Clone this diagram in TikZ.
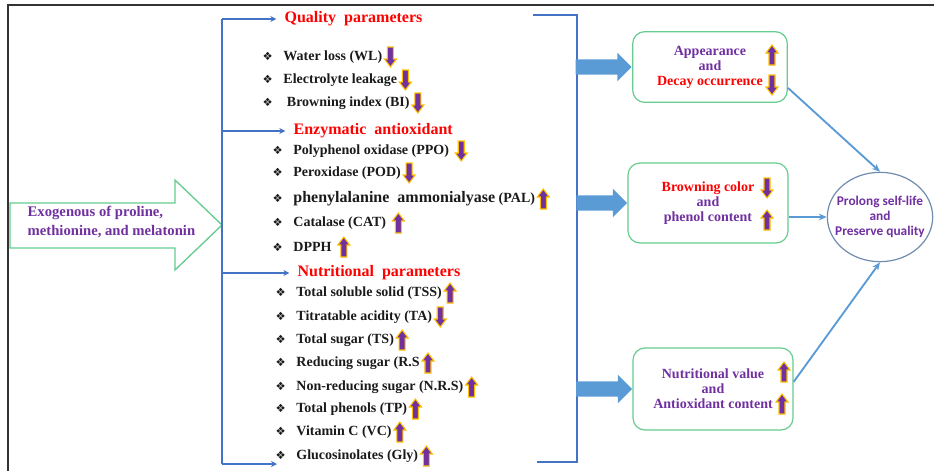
\documentclass[tikz,border=0pt]{standalone}
\usepackage{fontspec}
\setmainfont{Liberation Serif}
\newfontfamily\symfont{DejaVu Sans}
\newfontfamily\calfont{Carlito}
\usetikzlibrary{positioning,shapes.geometric,shapes.arrows,arrows.meta}
\definecolor{brkblue}{HTML}{4472C4}
\definecolor{arrblue}{HTML}{5B9BD5}
\definecolor{boxgreen}{HTML}{66CC8F}
\definecolor{txtpurple}{HTML}{7030A0}
\definecolor{flagred}{HTML}{FF0000}
\definecolor{tipgold}{HTML}{FFC000}
\definecolor{ellblue}{HTML}{6F8CAF}
\definecolor{framegray}{HTML}{333333}
\definecolor{itemblack}{HTML}{1A1A1A}
\newcommand{\ItemBullet}{{\symfont\fontsize{8.5}{8.5}\selectfont\char"2756}\hspace{8pt}}

\tikzset{
  glyph/.style={draw=tipgold,fill=txtpurple,line width=0.8pt},
  upglyph/.pic={\path[glyph] (-3,10) -- (-3,-2) -- (-6,-2) -- (0,-10) -- (6,-2) -- (3,-2) -- (3,10) -- cycle;},
  dnglyph/.pic={\path[glyph] (-3,-10) -- (-3,2) -- (-6,2) -- (0,10) -- (6,2) -- (3,2) -- (3,-10) -- cycle;},
  item/.style={anchor=west,inner sep=1pt,text=itemblack,font=\fontsize{10.5}{12}\selectfont\bfseries},
  head/.style={anchor=west,inner sep=1pt,text=flagred,font=\fontsize{12}{14}\selectfont\bfseries},
  box/.style={draw=boxgreen,line width=0.9pt,rounded corners=9pt,align=center,text=txtpurple,font=\fontsize{10.5}{11.3}\selectfont\bfseries},
  blockarr/.style={single arrow,fill=arrblue,inner xsep=0pt,inner ysep=5.6pt,single arrow head extend=4.9pt},
  brk/.style={draw=brkblue,line width=1.8pt,>={Stealth[length=4.5pt,width=4.5pt]}},
  conn/.style={draw=arrblue,line width=1.4pt,->,>={Stealth[length=6pt,width=5pt]}},
}

\begin{document}
\begin{tikzpicture}[x=0.75pt,y=-0.75pt]
  \useasboundingbox (0,0) rectangle (934,471);
  \draw[framegray,line width=1.5pt] (934,5) -- (8,5) -- (8,471);

  % input arrow
  \draw[boxgreen,line width=1pt,fill=white] (10,203) -- (175,203) -- (175,180) -- (222,225) -- (175,270) -- (175,248) -- (10,248) -- cycle;
  \node[anchor=west,align=left,text=txtpurple,font=\fontsize{11}{14}\selectfont\bfseries] (exo) at (23,222) {Exogenous of proline,\\methionine, and melatonin};

  % groups
  \node[head] (qual) at (283,19) {Quality\ \ parameters};
  \node[item] (wl) at (261,57) {\ItemBullet Water loss (WL)};
  \node[item] (el) at (261,80) {\ItemBullet Electrolyte leakage};
  \node[item] (bi) at (261,103) {\ItemBullet\ Browning index (BI)};
  \pic at ([xshift=5pt]wl.east) {dnglyph};
  \pic at ([xshift=5pt]el.east) {dnglyph};
  \pic at ([xshift=5pt]bi.east) {dnglyph};

  \node[head] (enz) at (292,131) {Enzymatic\ \ antioxidant};
  \node[item] (ppo) at (271,151) {\ItemBullet Polyphenol oxidase (PPO)};
  \node[item] (pod) at (271,173) {\ItemBullet Peroxidase (POD)};
  \node[item] (pal) at (271,199) {\ItemBullet{\fontsize{12}{14}\selectfont phenylalanine\ \ ammonialyase} (PAL)};
  \node[item] (cat) at (271,223) {\ItemBullet Catalase (CAT)};
  \node[item] (dpph) at (271,247) {\ItemBullet DPPH};
  \pic at ([xshift=8pt]ppo.east) {dnglyph};
  \pic at ([xshift=5pt]pod.east) {dnglyph};
  \pic at ([xshift=5pt]pal.east) {upglyph};
  \pic at ([xshift=8pt]cat.east) {upglyph};
  \pic at ([xshift=8pt]dpph.east) {upglyph};

  \node[head] (nutr) at (296,273) {Nutritional\ \ parameters};
  \node[item] (tss) at (274,293) {\ItemBullet Total soluble solid (TSS)};
  \node[item] (ta) at (274,317) {\ItemBullet Titratable acidity (TA)};
  \node[item] (ts) at (274,340) {\ItemBullet Total sugar (TS)};
  \node[item] (rs) at (274,363) {\ItemBullet Reducing sugar (R.S};
  \node[item] (nrs) at (274,387) {\ItemBullet Non-reducing sugar (N.R.S)};
  \node[item] (tp) at (274,409) {\ItemBullet Total phenols (TP)};
  \node[item] (vc) at (274,432) {\ItemBullet Vitamin C (VC)};
  \node[item] (gly) at (274,456) {\ItemBullet Glucosinolates (Gly)};
  \pic at ([xshift=5pt]tss.east) {upglyph};
  \pic at ([xshift=5pt]ta.east) {dnglyph};
  \pic at ([xshift=5pt]ts.east) {upglyph};
  \pic at ([xshift=5pt]rs.east) {upglyph};
  \pic at ([xshift=5pt]nrs.east) {upglyph};
  \pic at ([xshift=5pt]tp.east) {upglyph};
  \pic at ([xshift=5pt]vc.east) {upglyph};
  \pic at ([xshift=5pt]gly.east) {upglyph};

  % brackets
  \coordinate (lt) at (222,19);
  \coordinate (lb) at (222,464);
  \coordinate (lbend) at (277,464);
  \draw[brk] (lt) -- (lb);
  \draw[brk,->,shorten >=5pt] (lt) -- (qual.west);
  \draw[brk,->,shorten >=5pt] (lt |- enz.west) -- (enz.west);
  \draw[brk,->,shorten >=5pt] (lt |- nutr.west) -- (nutr.west);
  \draw[brk,->] (lb) -- (lbend);
  \coordinate (rt) at (533,15);
  \coordinate (rtop) at (577,15);
  \coordinate (rb) at (537,462);
  \draw[brk,line width=2pt] (rt) -- (rtop) -- (rtop |- rb) -- (rb);

  % outcomes
  \node[box,minimum width=116pt,minimum height=53pt] (box1) at (710,67) {Appearance\\and\\\textcolor{flagred}{Decay occurrence}};
  \node[box,minimum width=120pt,minimum height=60pt] (box2) at (708,203) {\textcolor{flagred}{Browning color}\\and\\phenol content};
  \node[box,minimum width=120pt,minimum height=61.5pt] (box3) at (713,389) {Nutritional value\\and\\Antioxidant content};
  \pic at (772,55) {upglyph};
  \pic at (772,85) {dnglyph};
  \pic at (767,188) {dnglyph};
  \pic at (767,220) {upglyph};
  \pic at (784,372) {upglyph};
  \pic at (782,404) {upglyph};
  \node[blockarr,minimum height=42pt,left=0pt of box1] (ba1) {};
  \node[blockarr,minimum height=38pt,left=0pt of box2] (ba2) {};
  \node[blockarr,minimum height=42pt,left=0pt of box3] (ba3) {};

  \node[ellipse,draw=ellblue,line width=0.9pt,minimum width=79pt,minimum height=67pt] (ell) at (880,217) {};
  \node[align=center,text=txtpurple,font=\calfont\bfseries\fontsize{10}{11.3}\selectfont] (goal) at (ell) {Prolong self-life\\and\\Preserve quality};
  \draw[conn] (box1.-15) -- (ell.north);
  \draw[conn] (box2.east |- ell.west) -- (ell.west);
  \draw[conn] (box3.5) -- (ell.south);
\end{tikzpicture}
\end{document}
